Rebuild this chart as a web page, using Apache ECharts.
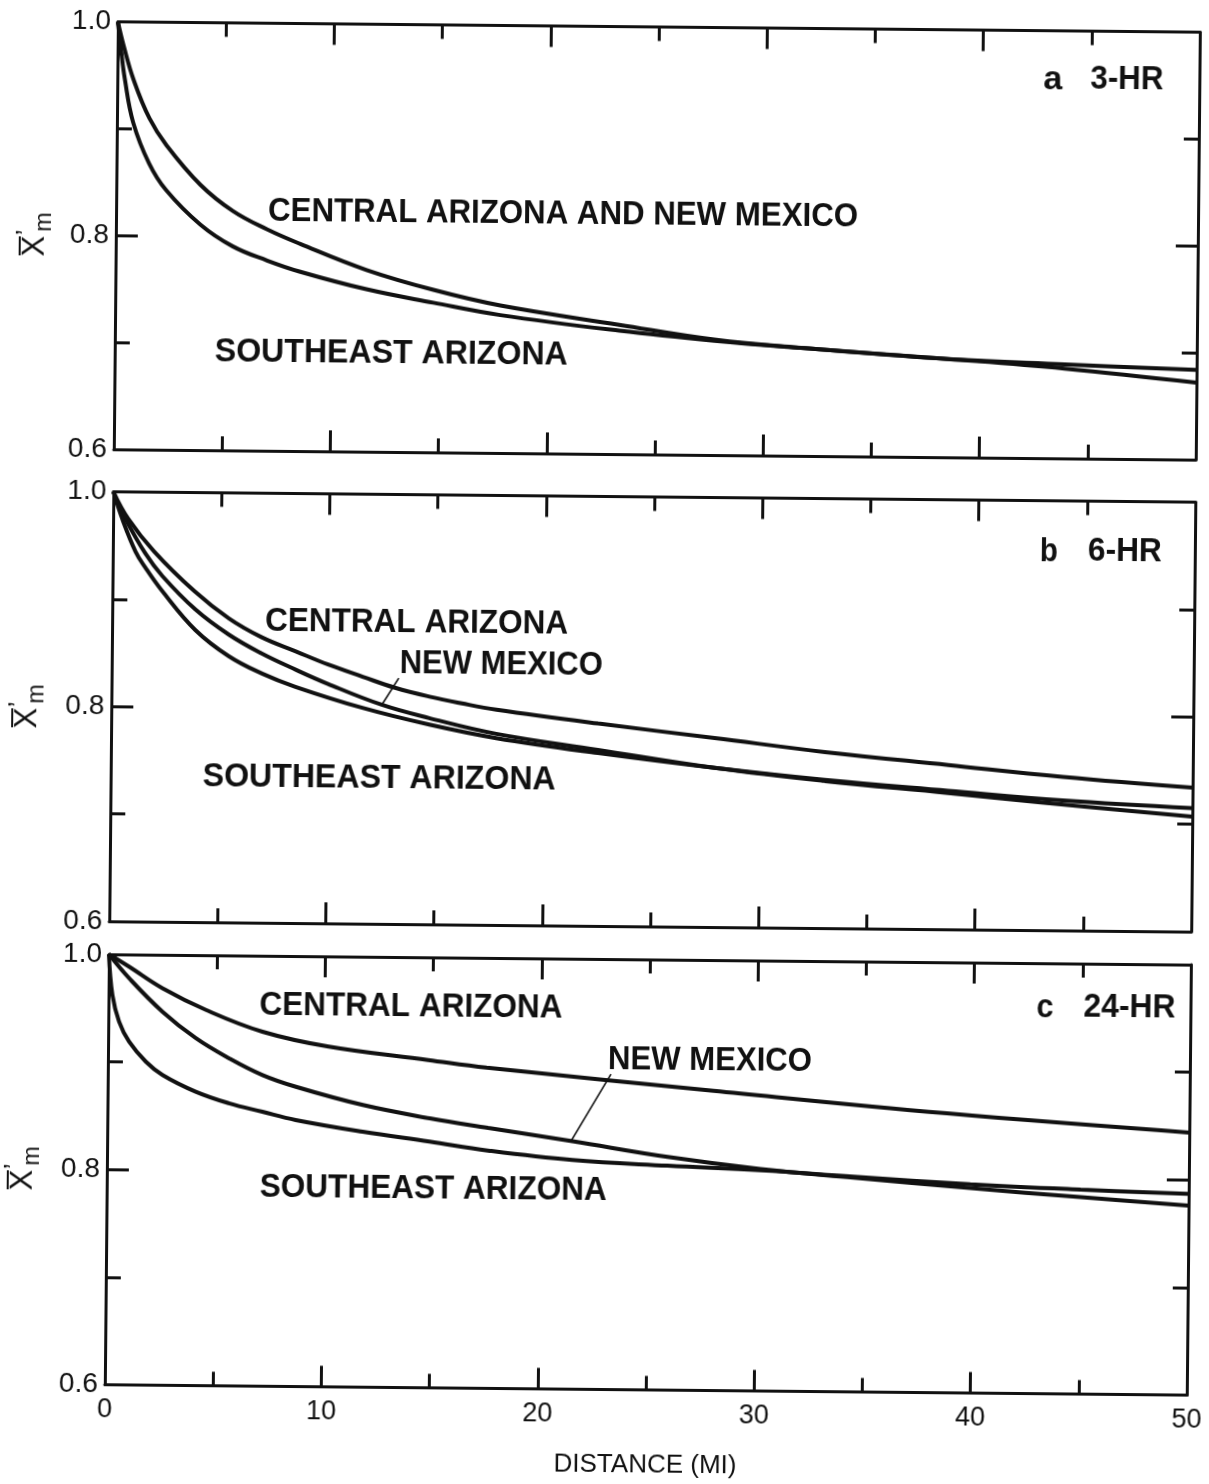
<!DOCTYPE html>
<html><head><meta charset="utf-8">
<script src="https://cdn.jsdelivr.net/npm/echarts@6/dist/echarts.min.js"></script>
<style>
html,body{margin:0;padding:0;background:#fff;overflow:hidden}
#chart{width:1209px;height:1484px;transform:rotate(0.55deg);transform-origin:604.5px 742px}
</style>
</head><body><div id="chart"></div>
<script>
// ---- data (distance in miles, X'm) ----
const xTickLabels = ['0', '10', '20', '30', '40', '50'];
const yTickLabels = ['0.6', '0.8', '1.0'];

const hr3Central = [[0,1.0],[0.3,0.976],[0.75,0.946],[1.5,0.910],[2.3,0.885],[3.9,0.848],[5.4,0.824],[7,0.807],[8.5,0.794],[11.6,0.770],[14.7,0.752],[17.8,0.738],[23.3,0.721],[27.7,0.708],[31.7,0.701],[38.5,0.692],[43.9,0.684],[50,0.672]];
const hr3Southeast = [[0,1.0],[0.15,0.975],[0.35,0.946],[0.75,0.906],[1.5,0.868],[2.3,0.843],[3.9,0.811],[5.4,0.791],[7,0.778],[8.5,0.768],[11.6,0.752],[14.7,0.740],[17.8,0.729],[23.3,0.7155],[27.7,0.707],[31.7,0.701],[38.5,0.692],[43.9,0.688],[50,0.684]];

const hr6Central = [[0,1.0],[0.7,0.975],[1.9,0.945],[3.8,0.908],[5.4,0.883],[6.9,0.866],[8.5,0.853],[10,0.841],[11.6,0.830],[13.1,0.820],[14.7,0.812],[16.2,0.806],[17.8,0.8005],[22.5,0.7885],[27.9,0.776],[33,0.764],[38.7,0.753],[44,0.743],[50,0.734]];
const hr6NewMexico = [[0,1.0],[0.57,0.975],[1.5,0.943],[2.3,0.922],[3.85,0.891],[5.4,0.868],[6.9,0.851],[8.5,0.836],[10,0.823],[12.5,0.804],[14.7,0.792],[17.8,0.778],[22.5,0.764],[28,0.748],[33,0.737],[38.7,0.727],[43,0.719],[50,0.707]];
const hr6Southeast = [[0,1.0],[0.42,0.975],[1.05,0.9445],[1.5,0.930],[2.3,0.908],[3.85,0.872],[5.4,0.848],[6.95,0.832],[8.5,0.820],[11.6,0.801],[14.7,0.786],[17.8,0.774],[22.5,0.761],[28,0.748],[33,0.738],[38.7,0.729],[44,0.721],[50,0.715]];

const hr24Central = [[0,1.0],[0.94,0.9886],[2.49,0.9689],[4.51,0.9491],[7.13,0.9294],[10.2,0.9161],[14.8,0.9046],[17.5,0.898],[28,0.8785],[38.8,0.8596],[50,0.844]];
const hr24NewMexico = [[0,1.0],[0.95,0.9778],[2.5,0.9471],[4.06,0.9227],[5.6,0.9044],[7.15,0.8891],[8.7,0.8785],[11.8,0.8622],[14.9,0.8504],[17.6,0.842],[21.5,0.8304],[25.9,0.8167],[30.2,0.8063],[34.5,0.799],[39.9,0.7904],[45,0.783],[50,0.776]];
const hr24Southeast = [[0,1.0],[0.18,0.9621],[0.5,0.9374],[0.97,0.919],[1.75,0.9006],[2.53,0.8883],[4.07,0.8731],[5.61,0.8626],[7.16,0.855],[8.7,0.8477],[11.8,0.8374],[14.9,0.8288],[17.6,0.821],[21.5,0.813],[25.9,0.8085],[30.2,0.805],[34.5,0.800],[39.9,0.794],[45,0.790],[50,0.787]];

const nmLeader6 = [[12.5, 0.804], [13.27, 0.829]];
const nmLeader24 = [[21.45, 0.831], [23.25, 0.893]];

// ---- layout ----
const INK = '#111';
const FONT = 'Liberation Sans, Arial, Helvetica, sans-serif';
const panels = [
  {top: 26.5, height: 427.5},
  {top: 496.5, height: 429.5},
  {top: 959, height: 430.5}
];

const grids = panels.map(p => ({left: 111, width: 1082, top: p.top, height: p.height, outerBoundsMode: 'none', containLabel: false}));

const lineAxis = {show: true, onZero: false, lineStyle: {color: INK, width: 3}};
function xAx(gi, pos, showLabels) {
  return {
    type: 'value', gridIndex: gi, position: pos, min: 0, max: 50, interval: 10,
    axisLine: lineAxis,
    axisTick: {show: true, inside: true, length: 21, lineStyle: {color: INK, width: 3}},
    minorTick: {show: true, splitNumber: 2, length: 14, lineStyle: {color: INK, width: 3}},
    splitLine: {show: false}, minorSplitLine: {show: false},
    axisLabel: {show: showLabels, color: INK, fontSize: 27, fontFamily: FONT, margin: 12,
      formatter: v => xTickLabels[Math.round(v / 10)]},
    name: showLabels ? 'DISTANCE (MI)' : '',
    nameLocation: 'middle', nameGap: 62,
    nameTextStyle: {color: INK, fontSize: 26, fontFamily: FONT}
  };
}
function yAx(gi, pos, showLabels) {
  return {
    type: 'value', gridIndex: gi, position: pos, min: 0.6, max: 1.0, interval: 0.2,
    axisLine: lineAxis,
    axisTick: {show: true, inside: true, length: 22, lineStyle: {color: INK, width: 3}},
    minorTick: {show: true, splitNumber: 2, length: 15, lineStyle: {color: INK, width: 3}},
    splitLine: {show: false}, minorSplitLine: {show: false},
    axisLabel: {show: showLabels, color: INK, fontSize: 28, fontFamily: FONT, margin: 7,
      formatter: v => yTickLabels[Math.round((v - 0.6) / 0.2)]}
  };
}
const xAxes = [], yAxes = [];
[0, 1, 2].forEach(i => {
  xAxes.push(xAx(i, 'bottom', i === 2));
  xAxes.push(xAx(i, 'top', false));
  yAxes.push(yAx(i, 'left', true));
  yAxes.push(yAx(i, 'right', false));
});

function curve(data, gi, leader) {
  const s = {
    type: 'line', data: data, xAxisIndex: gi * 2, yAxisIndex: gi * 2,
    showSymbol: false, symbol: 'none', smooth: 0.4,
    lineStyle: {color: INK, width: 4}, silent: true, animation: false, z: 3
  };
  if (leader) {
    s.markLine = {
      silent: true, symbol: ['none', 'none'], animation: false,
      label: {show: false},
      lineStyle: {color: INK, width: 1.6, type: 'solid'},
      data: [[{coord: leader[0]}, {coord: leader[1]}]]
    };
  }
  return s;
}
const series = [
  curve(hr3Central, 0), curve(hr3Southeast, 0),
  curve(hr6Central, 1), curve(hr6NewMexico, 1, nmLeader6), curve(hr6Southeast, 1),
  curve(hr24Central, 2), curve(hr24NewMexico, 2, nmLeader24), curve(hr24Southeast, 2)
];

// ---- annotation text (bold, condensed to the widths seen in the figure) ----
const BOLD = 'bold 33px ' + FONT;
const measureCtx = document.createElement('canvas').getContext('2d');
function label(text, x, y, w) {
  measureCtx.font = BOLD;
  const natural = measureCtx.measureText(text).width || w;
  return {type: 'text', x: x, y: y, scaleX: w / natural, silent: true, z: 10,
    style: {text: text, font: BOLD, fill: INK, textVerticalAlign: 'middle', textAlign: 'left'}};
}
function yName(x, y) {
  return {type: 'group', x: x, y: y, rotation: Math.PI / 2, silent: true, z: 10, children: [
    {type: 'text', x: 0, y: 0, style: {text: 'X', font: '31px ' + FONT, fill: INK, textVerticalAlign: 'middle'}},
    {type: 'line', shape: {x1: 1, y1: -15, x2: 20, y2: -15}, style: {stroke: INK, lineWidth: 2}},
    {type: 'text', x: 21, y: -8, style: {text: '\u2019', font: '26px ' + FONT, fill: INK, textVerticalAlign: 'middle'}},
    {type: 'text', x: 25, y: 10, style: {text: 'm', font: '23px ' + FONT, fill: INK, textVerticalAlign: 'middle'}}
  ]};
}
const graphic = [
  label('CENTRAL ARIZONA AND NEW MEXICO', 263, 215, 590),
  label('SOUTHEAST ARIZONA', 211, 356, 353),
  label('a', 1037, 76, 19), label('3-HR', 1084, 75, 73),
  label('CENTRAL ARIZONA', 264, 625, 303),
  label('NEW MEXICO', 399, 666, 203),
  label('SOUTHEAST ARIZONA', 203, 781, 353),
  label('b', 1038, 548, 18), label('6-HR', 1086, 547, 74),
  label('CENTRAL ARIZONA', 262, 1009, 303),
  label('NEW MEXICO', 611, 1060, 204),
  label('SOUTHEAST ARIZONA', 264, 1191, 347),
  label('c', 1039, 1004, 17), label('24-HR', 1086, 1003, 92),
  yName(30, 262), yName(27, 734), yName(27, 1196)
];

const chart = echarts.init(document.getElementById('chart'), null, {renderer: 'canvas'});
chart.setOption({
  animation: false,
  backgroundColor: '#fff',
  grid: grids, xAxis: xAxes, yAxis: yAxes, series: series, graphic: graphic
});
</script>
</body></html>
